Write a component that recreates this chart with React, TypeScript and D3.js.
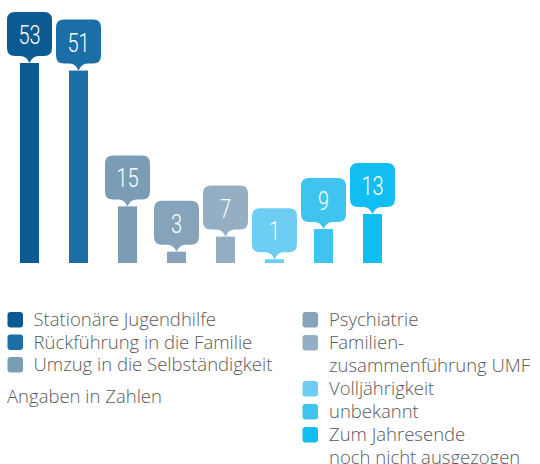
import React from "react";
import * as d3 from "d3";

const categories = [
  "Stationäre Jugendhilfe",
  "Rückführung in die Familie",
  "Umzug in die Selbständigkeit",
  "Psychiatrie",
  "Familienzusammenführung UMF",
  "Volljährigkeit",
  "unbekannt",
  "Zum Jahresende noch nicht ausgezogen",
];
const values = [53, 51, 15, 3, 7, 1, 9, 13];
const colors = ["#0b5a92", "#1c6ea6", "#7a9db5", "#87a3b9", "#94afc3", "#6dcdf3", "#3ec4ef", "#12bef1"];

const legendLeft = [
  { lines: ["Stationäre Jugendhilfe"], color: 0 },
  { lines: ["Rückführung in die Familie"], color: 1 },
  { lines: ["Umzug in die Selbständigkeit"], color: 2 },
];
const legendRight = [
  { lines: ["Psychiatrie"], color: 3 },
  { lines: ["Familien-", "zusammenführung UMF"], color: 4 },
  { lines: ["Volljährigkeit"], color: 5 },
  { lines: ["unbekannt"], color: 6 },
  { lines: ["Zum Jahresende", "noch nicht ausgezogen"], color: 7 },
];
const note = "Angaben in Zahlen";

function calloutPath(cx: number, tipY: number) {
  const w = 45, h = 44, r = 8, p = 7;
  const x0 = cx - w / 2, x1 = cx + w / 2;
  const y1 = tipY - p, y0 = y1 - h;
  return `M${x0 + r},${y0} H${x1 - r} Q${x1},${y0} ${x1},${y0 + r} V${y1 - r} Q${x1},${y1} ${x1 - r},${y1} H${cx + 9} Q${cx + 3},${y1} ${cx},${tipY} Q${cx - 3},${y1} ${cx - 9},${y1} H${x0 + r} Q${x0},${y1} ${x0},${y1 - r} V${y0 + r} Q${x0},${y0} ${x0 + r},${y0} Z`;
}

export default function App() {
  const W = 540, H = 464;
  const x = d3.scaleBand<string>().domain(categories).range([5, 397]).paddingInner(0.612).paddingOuter(0.306);
  const y = d3.scaleLinear().domain([0, 53]).range([263, 63]);
  const bw = x.bandwidth();
  const font = "'Open Sans', 'DejaVu Sans', sans-serif";
  const fs = 18.5;
  const rowL = 22.5;
  const rowR = 23;
  const textColor = "#5a5a5a";
  return (
    <svg width={W} height={H} style={{ position: "absolute", left: 0, top: 0 }}>
      {categories.map((c, i) => {
        const cx = (x(c) ?? 0) + bw / 2;
        const top = y(values[i]);
        return (
          <g key={c}>
            <rect x={x(c)} y={top} width={bw} height={y(0) - top} fill={colors[i]} />
            <path d={calloutPath(cx, top)} fill={colors[i]} />
            <text
              transform={`translate(${cx},${top - 19}) scale(0.8,1)`}
              textAnchor="middle"
              fill="#fff"
              fontFamily="Roboto, sans-serif"
              fontWeight={300}
              fontSize={25}
            >
              {values[i]}
            </text>
          </g>
        );
      })}
      {(() => {
        let row = 0;
        return legendLeft.map((item) => {
          const cy = 319.5 + row * rowL;
          row += item.lines.length;
          return (
            <g key={item.lines[0]}>
              <rect x={7.5} y={cy - 7.5} width={15.5} height={15.5} rx={3} fill={colors[item.color]} />
              {item.lines.map((l, j) => (
                <text key={l} x={33.5} y={cy + 6.5 + j * rowL} fontFamily={font} fontWeight={300} fontSize={fs} fill={textColor}>
                  {l}
                </text>
              ))}
            </g>
          );
        });
      })()}
      <text x={7} y={403} fontFamily={font} fontWeight={300} fontSize={fs} fill={textColor}>{note}</text>
      {(() => {
        let row = 0;
        return legendRight.map((item) => {
          const cy = 319.5 + row * rowR;
          row += item.lines.length;
          return (
            <g key={item.lines[0]}>
              <rect x={302.5} y={cy - 7.5} width={15.5} height={15.5} rx={3} fill={colors[item.color]} />
              {item.lines.map((l, j) => (
                <text key={l} x={329} y={cy + 6.5 + j * rowR} fontFamily={font} fontWeight={300} fontSize={fs} fill={textColor}>
                  {l}
                </text>
              ))}
            </g>
          );
        });
      })()}
    </svg>
  );
}
